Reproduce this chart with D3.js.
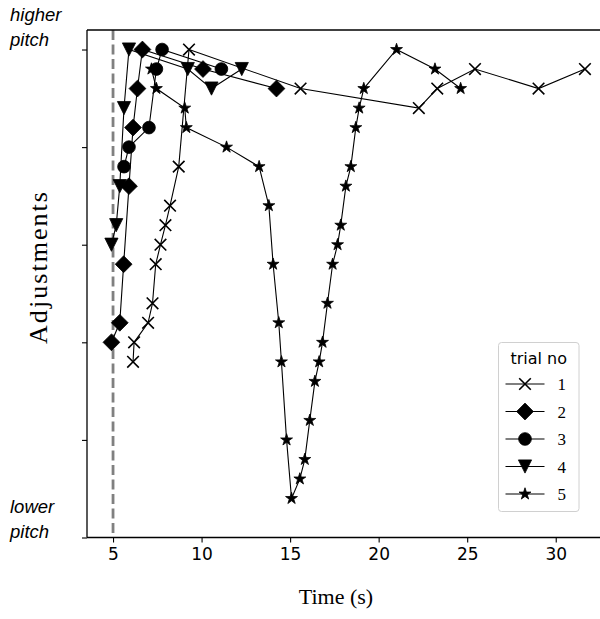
<!DOCTYPE html>
<html>
<head>
<meta charset="utf-8">
<script src="https://cdn.jsdelivr.net/npm/d3@7"></script>
<style>
  body { margin: 0; background: #fff; }
</style>
</head>
<body>
<svg id="chart" width="600" height="619"></svg>
<script>
// trial numbers (legend)
const trials = ["1", "2", "3", "4", "5"];

// time (s) and adjustment level per trial
const time1 = [6.13, 6.19, 6.98, 7.23, 7.41, 7.68, 7.96, 8.22, 8.71, 9.29, 15.59, 22.27, 23.31, 25.44, 29.03, 31.65];
const adj1  = [1.8, 2.0, 2.2, 2.4, 2.8, 3.0, 3.2, 3.4, 3.8, 5.0, 4.6, 4.4, 4.6, 4.8, 4.6, 4.8];

const time2 = [4.91, 5.38, 5.60, 5.90, 6.13, 6.38, 6.66, 10.08, 14.23];
const adj2  = [2.0, 2.2, 2.8, 3.6, 4.2, 4.6, 5.0, 4.8, 4.6];

const time3 = [5.62, 5.90, 7.03, 7.45, 7.77, 11.12];
const adj3  = [3.8, 4.0, 4.2, 4.8, 5.0, 4.8];

const time4 = [4.91, 5.18, 5.38, 5.62, 5.90, 9.22, 10.56, 12.27];
const adj4  = [3.0, 3.2, 3.6, 4.4, 5.0, 4.8, 4.6, 4.8];

const time5 = [7.17, 7.45, 9.05, 9.14, 11.41, 13.25, 13.80, 14.04, 14.36, 14.51, 14.80, 15.08,
               15.55, 15.83, 16.11, 16.40, 16.64, 16.83, 17.11, 17.40, 17.68, 17.86, 18.15, 18.43,
               18.71, 18.90, 19.16, 21.01, 23.18, 24.63];
const adj5  = [4.8, 4.6, 4.4, 4.2, 4.0, 3.8, 3.4, 2.8, 2.2, 1.8, 1.0, 0.4,
               0.6, 0.8, 1.2, 1.6, 1.8, 2.0, 2.4, 2.8, 3.0, 3.2, 3.6, 3.8,
               4.2, 4.4, 4.6, 5.0, 4.8, 4.6];

const xTicks = [5, 10, 15, 20, 25, 30];
const yTicks = [0, 1, 2, 3, 4, 5];
const startTime = 5;

const series = [
  { name: trials[0], t: time1, a: adj1, marker: "x" },
  { name: trials[1], t: time2, a: adj2, marker: "diamond" },
  { name: trials[2], t: time3, a: adj3, marker: "circle" },
  { name: trials[3], t: time4, a: adj4, marker: "tri" },
  { name: trials[4], t: time5, a: adj5, marker: "star" },
];

const svg = d3.select("#chart");
const mLeft = 87, mTop = 30, mBottom = 537.5, mRight = 600;

const x = d3.scaleLinear().domain([3.53, 32.5]).range([mLeft, mRight]);
const y = d3.scaleLinear().domain([0, 5.2]).range([mBottom, mTop]);

const serif = "'Liberation Serif', 'DejaVu Serif', serif";
const sans = "'DejaVu Sans', sans-serif";

// marker shapes
function markerPath(kind) {
  if (kind === "x") { const s = 5.8; return `M${-s},${-s}L${s},${s}M${-s},${s}L${s},${-s}`; }
  if (kind === "diamond") { const s = 8.4; return `M0,${-s}L${s},0L0,${s}L${-s},0Z`; }
  if (kind === "circle") return d3.symbol(d3.symbolCircle, 127)();
  if (kind === "tri") { const s = 6.6; return `M${-s},${-s}L${s},${-s}L0,${s}Z`; }
  if (kind === "star") return d3.symbol(d3.symbolStar, 44)();
}
function drawMarker(sel, kind) {
  sel.append("path")
    .attr("d", markerPath(kind))
    .attr("fill", kind === "x" ? "none" : "#000")
    .attr("stroke", "#000")
    .attr("stroke-width", kind === "x" ? 1.6 : 0.8)
    .attr("stroke-linejoin", "miter");
}

// clip
svg.append("clipPath").attr("id", "clip")
  .append("rect").attr("x", mLeft).attr("y", mTop).attr("width", mRight - mLeft).attr("height", mBottom - mTop);

const plot = svg.append("g").attr("clip-path", "url(#clip)");

// dashed start line
plot.append("line")
  .attr("x1", x(startTime)).attr("x2", x(startTime))
  .attr("y1", mTop).attr("y2", mBottom)
  .attr("stroke", "#808080")
  .attr("stroke-width", 2.8)
  .attr("stroke-dasharray", "10,4.5");

const line = d3.line().x(d => x(d[0])).y(d => y(d[1]));

series.forEach(s => {
  const pts = s.t.map((t, i) => [t, s.a[i]]);
  const g = plot.append("g");
  g.append("path")
    .attr("d", line(pts))
    .attr("fill", "none")
    .attr("stroke", "#000")
    .attr("stroke-width", 1.1);
  pts.forEach(p => {
    const m = g.append("g").attr("transform", `translate(${x(p[0])},${y(p[1])})`);
    drawMarker(m, s.marker);
  });
});

// axes
const xAxis = svg.append("g")
  .attr("transform", `translate(0,${mBottom})`)
  .call(d3.axisBottom(x).tickValues(xTicks).tickSize(5).tickSizeOuter(0).tickPadding(5));
xAxis.select(".domain").remove();
xAxis.selectAll(".tick line").attr("stroke", "#000").attr("stroke-width", 1.1);
xAxis.selectAll(".tick text")
  .attr("font-family", sans).attr("font-size", 17).attr("fill", "#000");

const yAxis = svg.append("g")
  .attr("transform", `translate(${mLeft},0)`)
  .call(d3.axisLeft(y).tickValues(yTicks).tickSize(5).tickFormat(""));
yAxis.select(".domain").remove();
yAxis.selectAll(".tick line").attr("stroke", "#000").attr("stroke-width", 1.1);

// spines: left, bottom, top
const spine = svg.append("g").attr("stroke", "#000").attr("stroke-width", 1.3);
spine.append("line").attr("x1", mLeft).attr("x2", mLeft).attr("y1", mTop).attr("y2", mBottom);
spine.append("line").attr("x1", mLeft).attr("x2", mRight).attr("y1", mBottom).attr("y2", mBottom);
spine.append("line").attr("x1", mLeft).attr("x2", mRight).attr("y1", mTop).attr("y2", mTop);

// pitch labels
const pitch = svg.append("g")
  .attr("font-family", "'Liberation Sans', Arial, sans-serif")
  .attr("font-style", "italic")
  .attr("font-size", 18.5)
  .attr("fill", "#000");
pitch.append("text").attr("x", 10).attr("y", 21).text("higher");
pitch.append("text").attr("x", 10).attr("y", 46).text("pitch");
pitch.append("text").attr("x", 10).attr("y", 513).text("lower");
pitch.append("text").attr("x", 10).attr("y", 538).text("pitch");

// axis labels
svg.append("text")
  .attr("transform", "translate(47,268) rotate(-90)")
  .attr("text-anchor", "middle")
  .attr("font-family", serif)
  .attr("font-size", 26)
  .attr("textLength", 152)
  .attr("lengthAdjust", "spacing")
  .text("Adjustments");

svg.append("text")
  .attr("x", 336)
  .attr("y", 604)
  .attr("text-anchor", "middle")
  .attr("font-family", serif)
  .attr("font-size", 22)
  .text("Time (s)");

// legend
const lg = svg.append("g").attr("transform", "translate(498.5,342.5)");
lg.append("rect")
  .attr("width", 80.5).attr("height", 169)
  .attr("rx", 3)
  .attr("fill", "#fff").attr("fill-opacity", 0.8)
  .attr("stroke", "#d0d0d0").attr("stroke-width", 1);
lg.append("text")
  .attr("x", 40.2).attr("y", 21)
  .attr("text-anchor", "middle")
  .attr("font-family", sans).attr("font-size", 16)
  .text("trial no");
series.forEach((s, i) => {
  const row = lg.append("g").attr("transform", `translate(0,${41.5 + i * 27.5})`);
  row.append("line").attr("x1", 7).attr("x2", 46)
    .attr("stroke", "#000").attr("stroke-width", 1.1);
  const m = row.append("g").attr("transform", "translate(26.5,0)");
  drawMarker(m, s.marker);
  row.append("text")
    .attr("x", 59).attr("y", 6)
    .attr("font-family", serif).attr("font-size", 17)
    .text(s.name);
});
</script>
</body>
</html>
